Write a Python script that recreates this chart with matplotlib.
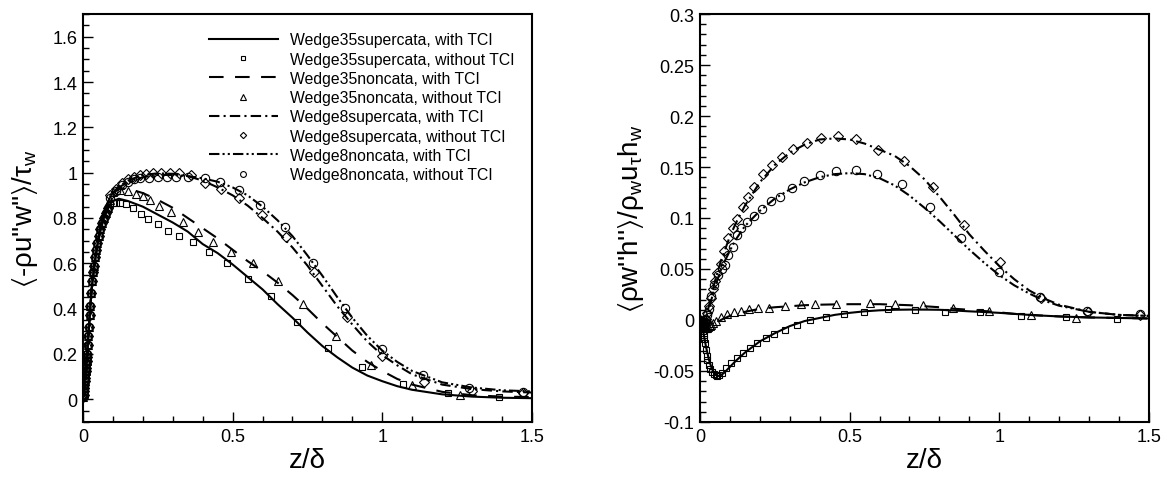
import matplotlib
matplotlib.use('Agg')
import matplotlib.pyplot as plt
from matplotlib.ticker import MultipleLocator, FormatStrFormatter

plt.rcParams['font.family'] = ['Liberation Sans', 'DejaVu Sans']
plt.rcParams['mathtext.fontset'] = 'custom'
plt.rcParams['mathtext.rm'] = 'Liberation Sans'
plt.rcParams['mathtext.it'] = 'Liberation Sans'
plt.rcParams['mathtext.fallback'] = 'stixsans'

# ---------------- left panel: <-rho u''w''>/tau_w ----------------
# lines (with TCI)
z_l = [0, 0.005, 0.01, 0.015, 0.02, 0.025, 0.03, 0.04, 0.05, 0.06, 0.07, 0.08, 0.09, 0.1,
       0.12, 0.15, 0.2, 0.25, 0.3, 0.35, 0.4, 0.45, 0.5, 0.55, 0.6, 0.65, 0.7, 0.75, 0.8,
       0.85, 0.9, 0.95, 1.0, 1.05, 1.1, 1.2, 1.3, 1.4, 1.5]
l_35sup = [0, 0.07, 0.15, 0.22, 0.32, 0.42, 0.5, 0.61, 0.69, 0.75, 0.8, 0.83, 0.86, 0.875,
           0.885, 0.875, 0.85, 0.815, 0.78, 0.74, 0.685, 0.645, 0.595, 0.54, 0.485, 0.42, 0.36,
           0.295, 0.235, 0.185, 0.14, 0.105, 0.08, 0.058, 0.042, 0.022, 0.012, 0.007, 0.005]
l_35non = [0, 0.07, 0.15, 0.22, 0.32, 0.42, 0.5, 0.61, 0.7, 0.77, 0.82, 0.86, 0.89, 0.91,
           0.928, 0.93, 0.91, 0.88, 0.845, 0.8, 0.755, 0.71, 0.66, 0.61, 0.565, 0.515, 0.46,
           0.4, 0.335, 0.275, 0.215, 0.165, 0.125, 0.09, 0.065, 0.033, 0.018, 0.012, 0.01]
l_8sup = [0, 0.07, 0.15, 0.22, 0.32, 0.42, 0.5, 0.61, 0.7, 0.77, 0.82, 0.86, 0.89, 0.91,
          0.94, 0.965, 0.99, 0.997, 0.995, 0.985, 0.965, 0.935, 0.9, 0.855, 0.8, 0.74, 0.67,
          0.59, 0.5, 0.41, 0.33, 0.255, 0.195, 0.15, 0.11, 0.065, 0.045, 0.035, 0.03]
l_8non = [0, 0.07, 0.15, 0.22, 0.32, 0.42, 0.5, 0.61, 0.7, 0.77, 0.82, 0.86, 0.89, 0.905,
          0.935, 0.958, 0.98, 0.99, 0.99, 0.985, 0.975, 0.96, 0.935, 0.9, 0.85, 0.79, 0.72,
          0.635, 0.545, 0.45, 0.36, 0.28, 0.215, 0.165, 0.125, 0.075, 0.052, 0.04, 0.035]

# markers (without TCI), dense near the wall
z_wall = [0.001, 0.002, 0.003, 0.004, 0.005, 0.006, 0.007, 0.008, 0.009, 0.010, 0.011, 0.012,
          0.013, 0.014, 0.016, 0.018, 0.020, 0.022, 0.024, 0.027, 0.030, 0.033, 0.036, 0.040,
          0.044, 0.048, 0.053, 0.058, 0.064, 0.070, 0.077, 0.084]
v_wall = [0.01, 0.02, 0.035, 0.05, 0.065, 0.08, 0.095, 0.11, 0.125, 0.14, 0.155, 0.17,
          0.185, 0.2, 0.24, 0.28, 0.32, 0.37, 0.41, 0.47, 0.52, 0.56, 0.59, 0.63,
          0.66, 0.69, 0.72, 0.75, 0.78, 0.8, 0.82, 0.845]

m_35sup_z = z_wall + [0.09, 0.1, 0.111, 0.125, 0.144, 0.166, 0.194, 0.216, 0.25, 0.283, 0.322,
                      0.366, 0.421, 0.48, 0.55, 0.627, 0.715, 0.818, 0.933, 1.069, 1.218, 1.389]
m_35sup_v = v_wall + [0.86, 0.865, 0.867, 0.865, 0.862, 0.846, 0.817, 0.795, 0.773, 0.743, 0.722,
                      0.692, 0.652, 0.6, 0.532, 0.454, 0.343, 0.227, 0.141, 0.066, 0.029, 0.01]
m_35non_z = z_wall + [0.09, 0.1, 0.125, 0.149, 0.177, 0.199, 0.225, 0.255, 0.294, 0.335, 0.383,
                      0.433, 0.495, 0.567, 0.65, 0.736, 0.844, 0.964, 1.101, 1.259]
m_35non_v = v_wall + [0.88, 0.915, 0.925, 0.92, 0.906, 0.896, 0.88, 0.854, 0.825, 0.784, 0.74,
                      0.695, 0.65, 0.601, 0.523, 0.419, 0.279, 0.151, 0.063, 0.019]
m_8sup_z = z_wall + [0.09, 0.11, 0.13, 0.15, 0.17, 0.19, 0.21, 0.235, 0.26, 0.29, 0.32, 0.36,
                     0.407, 0.46, 0.522, 0.598, 0.68, 0.771, 0.881, 1.0, 1.14, 1.3, 1.47]
m_8sup_v = v_wall + [0.9, 0.93, 0.955, 0.97, 0.98, 0.99, 0.993, 0.997, 1.0, 1.0, 0.998, 0.99,
                     0.953, 0.928, 0.889, 0.814, 0.716, 0.562, 0.364, 0.192, 0.078, 0.037, 0.03]
m_8non_z = z_wall + [0.09, 0.11, 0.13, 0.15, 0.17, 0.19, 0.22, 0.25, 0.28, 0.31, 0.35, 0.407,
                     0.458, 0.522, 0.593, 0.675, 0.769, 0.874, 1.0, 1.137, 1.291, 1.47]
m_8non_v = v_wall + [0.89, 0.92, 0.945, 0.96, 0.97, 0.975, 0.978, 0.98, 0.98, 0.98, 0.98, 0.975,
                     0.96, 0.925, 0.859, 0.762, 0.601, 0.403, 0.22, 0.106, 0.051, 0.032]

# ---------------- right panel: <rho w''h''>/rho_w u_tau h_w ----------------
z_r = [0, 0.005, 0.01, 0.015, 0.02, 0.03, 0.04, 0.05, 0.06, 0.07, 0.08, 0.1, 0.12, 0.15, 0.2,
       0.25, 0.3, 0.35, 0.4, 0.45, 0.5, 0.55, 0.6, 0.65, 0.7, 0.75, 0.8, 0.85, 0.9, 0.95, 1.0,
       1.05, 1.1, 1.15, 1.2, 1.3, 1.4, 1.5]
r_35sup = [0, -0.004, -0.01, -0.018, -0.026, -0.039, -0.048, -0.053, -0.055, -0.054, -0.052,
           -0.046, -0.04, -0.032, -0.021, -0.013, -0.006, -0.001, 0.002, 0.005, 0.007, 0.0085,
           0.0095, 0.01, 0.0102, 0.0102, 0.01, 0.0093, 0.0085, 0.0078, 0.007, 0.006, 0.005,
           0.0042, 0.0035, 0.0025, 0.002, 0.0015]
r_35non = [0, -0.003, -0.006, -0.008, -0.009, -0.008, -0.006, -0.004, -0.002, 0.0, 0.0015,
           0.004, 0.006, 0.008, 0.011, 0.0125, 0.0135, 0.0145, 0.015, 0.0153, 0.0155, 0.0155,
           0.0155, 0.015, 0.0145, 0.0135, 0.0125, 0.011, 0.01, 0.0088, 0.0075, 0.006, 0.005,
           0.0042, 0.0035, 0.0025, 0.002, 0.0015]
r_8sup = [0, -0.002, -0.004, -0.002, 0.002, 0.014, 0.027, 0.038, 0.048, 0.058, 0.066, 0.082,
          0.095, 0.112, 0.135, 0.152, 0.164, 0.172, 0.177, 0.178, 0.177, 0.173, 0.167, 0.161,
          0.151, 0.138, 0.121, 0.103, 0.084, 0.068, 0.053, 0.04, 0.029, 0.021, 0.015, 0.008,
          0.005, 0.004]
r_8non = [0, -0.002, -0.004, -0.003, 0.0, 0.01, 0.022, 0.032, 0.041, 0.049, 0.056, 0.068,
          0.079, 0.092, 0.107, 0.119, 0.128, 0.135, 0.14, 0.143, 0.144, 0.143, 0.139, 0.132,
          0.122, 0.11, 0.097, 0.083, 0.069, 0.056, 0.044, 0.034, 0.026, 0.019, 0.014, 0.008,
          0.005, 0.004]

q_35sup_z = [0.001, 0.002, 0.003, 0.004, 0.005, 0.006, 0.007, 0.008, 0.01, 0.012, 0.014, 0.016,
             0.019, 0.022, 0.025, 0.03, 0.035, 0.041, 0.048, 0.053, 0.058, 0.065, 0.073, 0.088,
             0.105, 0.124, 0.145, 0.167, 0.192, 0.22, 0.249, 0.283, 0.323, 0.369, 0.421, 0.481,
             0.548, 0.627, 0.717, 0.819, 0.934, 1.074, 1.222, 1.392]
q_35sup_v = [0.0, -0.001, -0.002, -0.003, -0.004, -0.005, -0.006, -0.008, -0.011, -0.015,
             -0.019, -0.023, -0.029, -0.035, -0.039, -0.044, -0.048, -0.051, -0.053, -0.054,
             -0.055, -0.054, -0.052, -0.047, -0.042, -0.037, -0.032, -0.027, -0.023, -0.018,
             -0.014, -0.0095, -0.0049, 0.0, 0.003, 0.006, 0.008, 0.0107, 0.01, 0.008, 0.0075,
             0.004, 0.0026, 0.001]
q_35non_z = [0.001, 0.002, 0.003, 0.005, 0.008, 0.011, 0.014, 0.017, 0.02, 0.024, 0.028, 0.032,
             0.036, 0.045, 0.055, 0.07, 0.091, 0.113, 0.136, 0.163, 0.194, 0.229, 0.283, 0.336,
             0.386, 0.455, 0.567, 0.651, 0.746, 0.846, 0.965, 1.106, 1.258]
q_35non_v = [0.0, -0.001, -0.002, -0.003, -0.005, -0.006, -0.007, -0.0075, -0.008, -0.008,
             -0.007, -0.006, -0.005, -0.003, -0.001, 0.003, 0.0055, 0.0075, 0.009, 0.0105,
             0.0115, 0.012, 0.014, 0.0155, 0.016, 0.016, 0.017, 0.016, 0.015, 0.012, 0.009,
             0.005, 0.002]
q_8sup_z = [0.001, 0.003, 0.005, 0.008, 0.01, 0.013, 0.015, 0.018, 0.02, 0.025, 0.03, 0.036,
            0.042, 0.049, 0.057, 0.069, 0.08, 0.095, 0.11, 0.123, 0.143, 0.16, 0.18, 0.21, 0.24,
            0.274, 0.312, 0.356, 0.406, 0.46, 0.523, 0.595, 0.681, 0.778, 0.881, 1.004, 1.139,
            1.297, 1.471]
q_8sup_v = [0.0, -0.001, -0.002, -0.003, -0.004, -0.004, -0.003, -0.001, 0.001, 0.007, 0.014,
            0.022, 0.03, 0.038, 0.046, 0.055, 0.068, 0.08, 0.09, 0.099, 0.111, 0.121, 0.13, 0.143,
            0.152, 0.16, 0.168, 0.174, 0.178, 0.18, 0.177, 0.167, 0.156, 0.13, 0.093, 0.057,
            0.022, 0.008, 0.005]
q_8non_z = [0.001, 0.003, 0.005, 0.008, 0.01, 0.013, 0.015, 0.018, 0.02, 0.025, 0.03, 0.038,
            0.048, 0.06, 0.072, 0.084, 0.095, 0.11, 0.124, 0.138, 0.157, 0.18, 0.208, 0.238,
            0.269, 0.308, 0.349, 0.4, 0.456, 0.52, 0.592, 0.676, 0.769, 0.873, 0.998, 1.137,
            1.293, 1.47]
q_8non_v = [0.0, -0.001, -0.002, -0.003, -0.004, -0.004, -0.003, -0.002, 0.0, 0.005, 0.011,
            0.024, 0.034, 0.044, 0.05, 0.054, 0.064, 0.072, 0.083, 0.09, 0.096, 0.102, 0.109,
            0.117, 0.121, 0.129, 0.136, 0.142, 0.146, 0.147, 0.143, 0.133, 0.111, 0.08, 0.047,
            0.023, 0.009, 0.0055]

labels = ['Wedge35supercata, with TCI', 'Wedge35supercata, without TCI',
          'Wedge35noncata, with TCI', 'Wedge35noncata, without TCI',
          'Wedge8supercata, with TCI', 'Wedge8supercata, without TCI',
          'Wedge8noncata, with TCI', 'Wedge8noncata, without TCI']

lw = 1.5
ls_solid = '-'
ls_dash = (0, (7, 5.5))
ls_dashdot = (0, (5, 2, 1, 2))
ls_dashdotdot = (0, (5, 1.5, 1, 1.5, 1, 1.5))
mk = dict(linestyle='none', markerfacecolor='none', markeredgecolor='k', markeredgewidth=0.8)

fig = plt.figure(figsize=(11.67, 4.81), dpi=100)
ax1 = fig.add_axes([0.0711, 0.1206, 0.3847, 0.8482])
ax2 = fig.add_axes([0.5998, 0.1206, 0.3847, 0.8482])


def draw(ax, zl, lines, markers):
    styles = [ls_solid, ls_dash, ls_dashdot, ls_dashdotdot]
    marks = [('s', 5.0), ('^', 6.3), ('D', 4.6), ('o', 6.0)]
    for i in range(4):
        ax.plot(zl, lines[i], color='k', lw=lw, linestyle=styles[i], label=labels[2 * i])
        mz, mv = markers[i]
        ax.plot(mz, mv, marker=marks[i][0], markersize=marks[i][1], label=labels[2 * i + 1], **mk)


draw(ax1, z_l, [l_35sup, l_35non, l_8sup, l_8non],
     [(m_35sup_z, m_35sup_v), (m_35non_z, m_35non_v), (m_8sup_z, m_8sup_v), (m_8non_z, m_8non_v)])
draw(ax2, z_r, [r_35sup, r_35non, r_8sup, r_8non],
     [(q_35sup_z, q_35sup_v), (q_35non_z, q_35non_v), (q_8sup_z, q_8sup_v), (q_8non_z, q_8non_v)])

ax1.set_xlim(0, 1.5)
ax1.set_ylim(-0.1, 1.7)
ax1.yaxis.set_major_locator(MultipleLocator(0.2))
ax1.yaxis.set_minor_locator(MultipleLocator(0.05))
ax2.set_xlim(0, 1.5)
ax2.set_ylim(-0.1, 0.3)
ax2.yaxis.set_major_locator(MultipleLocator(0.05))
ax2.yaxis.set_minor_locator(MultipleLocator(0.01))

for ax in (ax1, ax2):
    ax.xaxis.set_major_locator(MultipleLocator(0.5))
    ax.xaxis.set_minor_locator(MultipleLocator(0.1))
    ax.xaxis.set_major_formatter(FormatStrFormatter('%g'))
    ax.yaxis.set_major_formatter(FormatStrFormatter('%g'))
    ax.tick_params(which='both', direction='in', top=False, right=False, labelsize=13, width=1)
    ax.tick_params(which='major', length=7)
    ax.tick_params(which='minor', length=4)
    ax.tick_params(axis='y', pad=4)
    ax.tick_params(axis='x', pad=4)
    for s in ax.spines.values():
        s.set_linewidth(1.5)
    ax.set_xlabel('z/δ', fontsize=20, labelpad=2)

ax1.set_ylabel(r"$\langle$-ρu''w''$\rangle$/$\tau_w$", fontsize=20, labelpad=9)
ax2.set_ylabel(r"$\langle$ρw''h''$\rangle$/$\rho_w u_\tau h_w$", fontsize=20, labelpad=5)

ax1.legend(loc='upper left', bbox_to_anchor=(0.28, 0.955), frameon=False, fontsize=11.3,
           handlelength=4.4, handletextpad=0.8, labelspacing=0.27, borderpad=0,
           borderaxespad=0, markerscale=0.7)

fig.savefig('out.png', dpi=100)
